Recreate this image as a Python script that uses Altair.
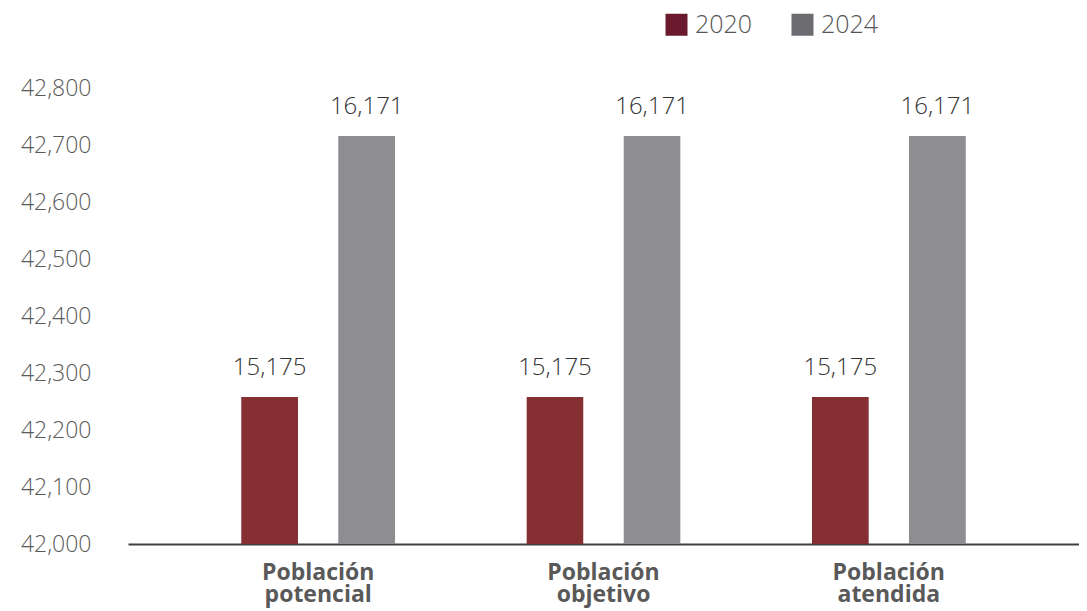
import altair as alt
import pandas as pd

categories = ["Población potencial", "Población objetivo", "Población atendida"]
years = ["2020", "2024"]
values_2020 = [42258, 42258, 42258]
values_2024 = [42716, 42716, 42716]
labels_2020 = ["15,175", "15,175", "15,175"]
labels_2024 = ["16,171", "16,171", "16,171"]
y_ticks = [42000, 42100, 42200, 42300, 42400, 42500, 42600, 42700, 42800]
bar_colors = ["#862F33", "#8E8E92"]
legend_colors = ["#6B1A2E", "#6B6B70"]

rows = []
for i, c in enumerate(categories):
    rows.append({"cat": c, "year": years[0], "value": values_2020[i], "label": labels_2020[i]})
    rows.append({"cat": c, "year": years[1], "value": values_2024[i], "label": labels_2024[i]})
df = pd.DataFrame(rows)

FONT = "Open Sans"

x = alt.X(
    "cat:N", sort=categories, title=None,
    scale=alt.Scale(paddingInner=0, paddingOuter=0.1667),
    axis=alt.Axis(
        labelAngle=0, labelExpr="split(datum.label, ' ')", labelFont=FONT,
        labelFontWeight="bold", labelFontSize=23, labelColor="#595959",
        labelLineHeight=22, ticks=False, domainColor="#404040", domainWidth=2,
        labelPadding=17,
    ),
)
xo = alt.XOffset("year:N", sort=years, scale=alt.Scale(paddingInner=0.42, paddingOuter=0.68))
y = alt.Y(
    "value:Q", title=None,
    scale=alt.Scale(domain=[42000, 42800], zero=False, nice=False),
    axis=alt.Axis(
        values=y_ticks, labelExpr="format(datum.value, ',')", grid=False, domain=False, ticks=False,
        labelFont=FONT, labelFontSize=23, labelColor="#5a5a5a", labelPadding=37,
        labelFontWeight=300,
    ),
)

# legend-only layer: identical bars drawn underneath, coloured with the legend swatch colours
legend_layer = alt.Chart().mark_bar().encode(
    x=x, xOffset=xo, y=y, y2=alt.datum(42000),
    fill=alt.Fill(
        "year:N",
        scale=alt.Scale(domain=years, range=legend_colors),
        legend=alt.Legend(
            title=None, orient="none", legendX=536, legendY=-76, direction="horizontal",
            symbolType="square", symbolSize=484, symbolOpacity=1, symbolStrokeWidth=0,
            labelFont=FONT, labelFontSize=25, labelColor="#555555", labelFontWeight=300,
            labelOffset=6, columnPadding=37,
        ),
    ),
)

bars = alt.Chart().mark_bar().encode(
    x=x, xOffset=xo, y=y, y2=alt.datum(42000),
    color=alt.Color("year:N", scale=alt.Scale(domain=years, range=bar_colors), legend=None),
)

text = alt.Chart().mark_text(
    dy=-17, baseline="bottom", fontSize=24, color="#333333", font=FONT, fontWeight=300
).encode(x=x, xOffset=xo, y=y, text="label:N")

chart = alt.layer(legend_layer, bars, text, data=df).properties(
    width=951, height=456,
    padding={"left": 120, "top": 80, "right": 0, "bottom": 67},
    autosize=alt.AutoSizeParams(type="none"),
).configure(background="white").configure_view(stroke=None)

chart.save("out.html", embed_options={"renderer": "svg", "actions": False})
